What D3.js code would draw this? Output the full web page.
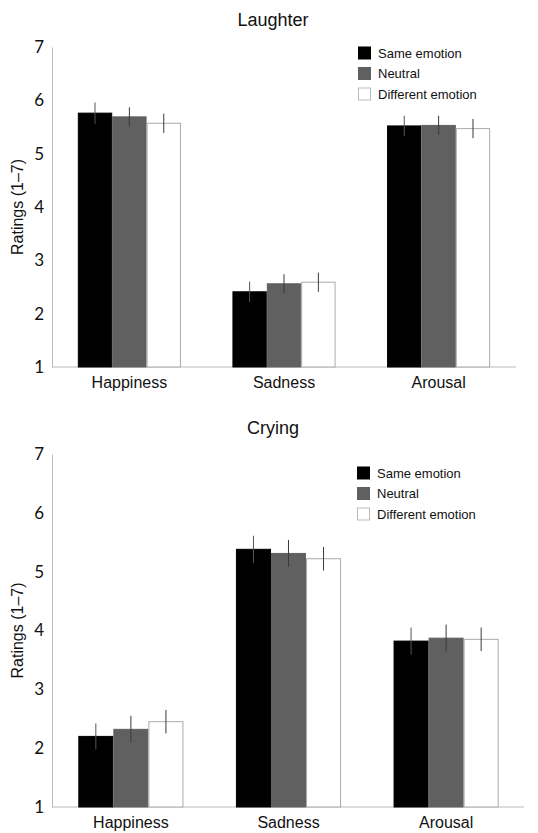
<!DOCTYPE html>
<html>
<head>
<meta charset="utf-8">
<script src="https://d3js.org/d3.v7.min.js"></script>
<style>
  body { margin: 0; background: #fff; }
  text { font-family: "Liberation Sans", Arial, sans-serif; fill: #111; }
</style>
</head>
<body>
<svg id="chart" width="538" height="833"></svg>
<script>
// data
var categories = ["Happiness", "Sadness", "Arousal"];
var conditions = ["Same emotion", "Neutral", "Different emotion"];
var yTicks = [1, 2, 3, 4, 5, 6, 7];

// laughter panel: rows = category, cols = condition
var laughterMeans = [[5.76, 5.69, 5.57], [2.41, 2.56, 2.59], [5.52, 5.53, 5.47]];
var laughterErr   = [[0.20, 0.18, 0.18], [0.19, 0.18, 0.18], [0.19, 0.18, 0.18]];

// crying panel
var cryingMeans = [[2.20, 2.32, 2.45], [5.38, 5.31, 5.22], [3.82, 3.87, 3.85]];
var cryingErr   = [[0.22, 0.23, 0.20], [0.23, 0.23, 0.20], [0.23, 0.23, 0.20]];

var fills = ["#000000", "#606060", "#ffffff"];
var strokes = ["#000000", "#606060", "#aaaaaa"];

var svg = d3.select('#chart');

function drawPanel(title, means, errs, box) {
	var g = svg.append('g');

	var x = d3.scaleBand()
		.domain(categories)
		.range([box.left, box.right])
		.paddingInner(0.333)
		.paddingOuter(0.167);
	var x1 = d3.scaleBand()
		.domain(conditions)
		.range([0, x.bandwidth()]);
	var y = d3.scaleLinear()
		.domain([1, 7])
		.range([box.bottom, box.top]);

	// title
	g.append('text')
		.attr('x', 273)
		.attr('y', box.titleY)
		.attr('text-anchor', 'middle')
		.style('font-size', '18px')
		.text(title);

	// y axis
	var ya = g.append('g')
		.attr('transform', 'translate(' + box.left + ',0)')
		.call(d3.axisLeft(y).tickValues(yTicks).tickFormat(d3.format('d')).tickSize(0).tickPadding(8));
	ya.select('.domain').attr('stroke', '#bbb');
	ya.selectAll('text').style('font-size', '17px').style('font-family', 'Lato, "Liberation Sans", sans-serif');

	// x axis
	var xa = g.append('g')
		.attr('transform', 'translate(0,' + box.bottom + ')')
		.call(d3.axisBottom(x).tickSize(0).tickPadding(10));
	xa.select('.domain').attr('d', 'M' + box.left + ',0H' + box.axisEnd).attr('stroke', '#bbb');
	xa.selectAll('text').style('font-size', '16px');

	// y label
	g.append('text')
		.attr('transform', 'translate(17,' + ((box.top + box.bottom) / 2) + ') rotate(-90)')
		.attr('text-anchor', 'middle')
		.attr('dy', '0.35em')
		.style('font-size', '16px')
		.text('Ratings (1\u20137)');

	// bars
	categories.forEach(function(cat, i) {
		var grp = g.append('g').attr('transform', 'translate(' + x(cat) + ',0)');
		conditions.forEach(function(cond, j) {
			grp.append('rect')
				.attr('x', x1(cond) + 0.5)
				.attr('y', y(means[i][j]))
				.attr('width', x1.bandwidth() - 1)
				.attr('height', y(1) - y(means[i][j]))
				.attr('fill', fills[j])
				.attr('stroke', strokes[j])
				.attr('stroke-width', 1);
		});
		conditions.forEach(function(cond, j) {
			var cx = x1(cond) + x1.bandwidth() / 2;
			grp.append('line')
				.attr('x1', cx).attr('x2', cx)
				.attr('y1', y(means[i][j] + errs[i][j]))
				.attr('y2', y(means[i][j] - errs[i][j]))
				.attr('stroke', j == 0 ? '#555' : '#3a3a3a')
				.attr('stroke-width', 1);
		});
	});

	// legend
	var lg = g.append('g').attr('transform', 'translate(' + box.legX + ',' + box.legY + ')');
	conditions.forEach(function(cond, j) {
		lg.append('rect')
			.attr('x', 0.5)
			.attr('y', j * 20.5 - 6)
			.attr('width', 12)
			.attr('height', 12)
			.attr('fill', fills[j])
			.attr('stroke', j == 2 ? '#bbb' : strokes[j]);
		lg.append('text')
			.attr('x', 20)
			.attr('y', j * 20.5)
			.attr('dy', '0.35em')
			.style('font-size', '13px')
			.text(cond);
	});
}

drawPanel('Laughter', laughterMeans, laughterErr,
	{left: 52, right: 516, axisEnd: 516, top: 47, bottom: 367, titleY: 26, legX: 358, legY: 53});
drawPanel('Crying', cryingMeans, cryingErr,
	{left: 52, right: 525, axisEnd: 524, top: 454, bottom: 807, titleY: 434, legX: 357, legY: 473});
</script>
</body>
</html>
